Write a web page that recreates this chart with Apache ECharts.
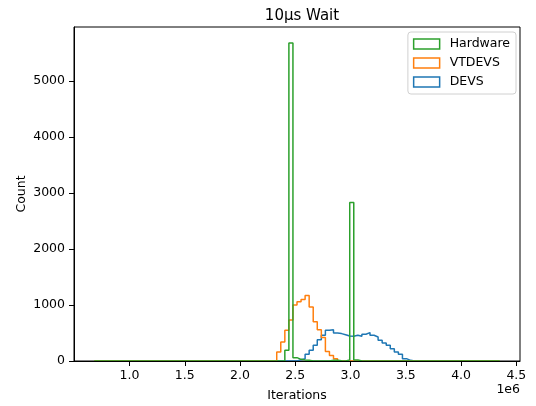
<!DOCTYPE html>
<html>
<head>
<meta charset="utf-8">
<script src="https://cdn.jsdelivr.net/npm/echarts@6/dist/echarts.min.js"></script>
<style>
  html, body { margin: 0; padding: 0; background: #fff; }
  #chart { width: 536px; height: 406px; }
</style>
</head>
<body>
<div id="chart"></div>
<script>
// shared histogram bins (100 bins)
var binStart = 681000;
var binWidth = 36690;
var binCount = 100;

// counts, starting at the given bin index
var devsFirstBin = 50;
var devsCounts = [24, 42, 119, 191, 280, 381, 459, 548, 560, 500, 489, 470, 447, 441,
                  459, 441, 477, 507, 459, 429, 370, 322, 280, 220, 160, 119, 42, 12];
var vtdevsFirstBin = 45;
var vtdevsCounts = [160, 340, 550, 730, 1000, 1060, 1100, 1170, 965, 700, 560, 420, 170, 100, 40];
var hwFirstBin = 47;
var hwCounts = [190, 5680, 60, 30, 20, 15, 0, 0, 0, 0, 0, 12, 15, 5, 0, 20, 2830, 20];

var xTicks = [1000000, 1500000, 2000000, 2500000, 3000000, 3500000, 4000000, 4500000];
var yTicks = [0, 1000, 2000, 3000, 4000, 5000];

var FONT = 'DejaVu Sans';
var FS = 12.5;

function stepData(first, counts) {
    var pts = [];
    for (var i = 0; i < binCount; i++) {
        var k = i - first;
        var c = (k >= 0 && k < counts.length) ? counts[k] : 0;
        pts.push([binStart + i * binWidth, c]);
    }
    pts.push([binStart + binCount * binWidth, 0]);
    return pts;
}

function histSeries(name, color, first, counts) {
    return {
        name: name,
        type: 'line',
        step: 'end',
        showSymbol: false,
        symbol: 'none',
        color: color,
        lineStyle: { color: color, width: 1.5 },
        data: stepData(first, counts)
    };
}

var myChart = echarts.init(document.getElementById('chart'));
var option = {
    animation: false,
    backgroundColor: '#fff',
    title: {
        text: '10µs Wait',
        left: 297,
        textAlign: 'center',
        top: 4,
        textStyle: { fontFamily: FONT, fontSize: 15, fontWeight: 'normal', color: '#000' }
    },
    legend: {
        orient: 'vertical',
        right: 20,
        top: 32,
        backgroundColor: '#fff',
        borderColor: '#d0d0d0',
        borderWidth: 1,
        borderRadius: 3,
        padding: [5, 6, 5, 5],
        itemWidth: 26,
        itemHeight: 10,
        itemGap: 5,
        textStyle: { fontFamily: FONT, fontSize: FS, color: '#000', lineHeight: 14, padding: [0, 0, 0, 5] },
        data: [
            { name: 'Hardware', icon: 'rect', itemStyle: { color: '#fff', borderColor: '#2ca02c', borderWidth: 1.5 } },
            { name: 'VTDEVS', icon: 'rect', itemStyle: { color: '#fff', borderColor: '#ff7f0e', borderWidth: 1.5 } },
            { name: 'DEVS', icon: 'rect', itemStyle: { color: '#fff', borderColor: '#1f77b4', borderWidth: 1.5 } }
        ]
    },
    grid: {
        left: 74, right: 16, top: 27, bottom: 45,
        outerBoundsMode: 'none',
        containLabel: false,
        show: true, borderColor: '#000', borderWidth: 1
    },
    xAxis: {
        type: 'value',
        min: 498000,
        max: 4533000,
        z: 5,
        name: 'Iterations',
        nameLocation: 'middle',
        nameGap: 28,
        nameMoveOverlap: false,
        nameTextStyle: { fontFamily: FONT, fontSize: FS, color: '#000' },
        splitLine: { show: false },
        axisLine: { lineStyle: { color: '#000', width: 1 } },
        axisTick: { show: true, length: 5, lineStyle: { color: '#000' }, customValues: xTicks },
        axisLabel: {
            fontFamily: FONT, fontSize: FS, color: '#000', margin: 8,
            customValues: xTicks,
            formatter: function (v) { return (v / 1e6).toFixed(1); }
        }
    },
    yAxis: {
        type: 'value',
        min: 0,
        max: 5964,
        z: 5,
        name: 'Count',
        nameLocation: 'middle',
        nameGap: 46,
        nameMoveOverlap: false,
        nameTextStyle: { fontFamily: FONT, fontSize: FS, color: '#000' },
        splitLine: { show: false },
        axisLine: { show: true, lineStyle: { color: '#000', width: 1 } },
        axisTick: { show: true, length: 5, lineStyle: { color: '#000' }, customValues: yTicks },
        axisLabel: {
            fontFamily: FONT, fontSize: FS, color: '#000', margin: 9, customValues: yTicks,
            formatter: function (v) { return String(v); }
        }
    },
    graphic: [{
        type: 'text',
        right: 16,
        top: 383,
        style: { text: '1e6', font: FS + 'px "DejaVu Sans"', fill: '#000' }
    }],
    series: [
        histSeries('DEVS', '#1f77b4', devsFirstBin, devsCounts),
        histSeries('VTDEVS', '#ff7f0e', vtdevsFirstBin, vtdevsCounts),
        histSeries('Hardware', '#2ca02c', hwFirstBin, hwCounts)
    ]
};
myChart.setOption(option);
</script>
</body>
</html>
